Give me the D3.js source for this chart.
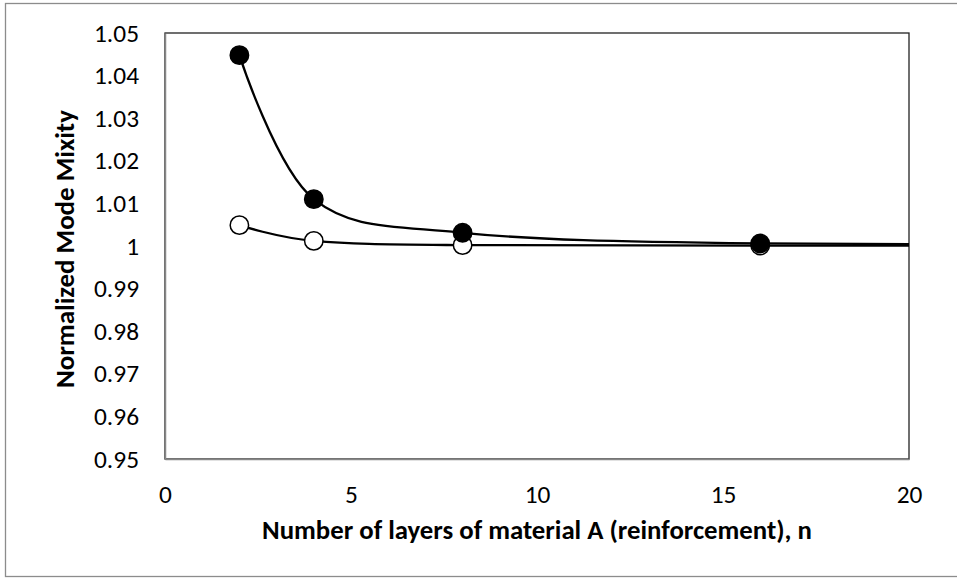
<!DOCTYPE html>
<html>
<head>
<meta charset="utf-8">
<script src="https://cdn.jsdelivr.net/npm/d3@7/dist/d3.min.js"></script>
<style>
  body { margin: 0; background: #fff; }
  text { font-family: Carlito, Calibri, Lato, sans-serif; fill: #000; }
</style>
</head>
<body>
<svg id="chart" width="957" height="580"></svg>
<script>
// data (n = 32 is past the axis, it only carries the curves to the edge)
var layers = [2, 4, 8, 16, 32];
var filledSeries = [1.0448, 1.0110, 1.0031, 1.0006, 1.0003];
var openSeries = [1.0049, 1.0012, 1.0002, 1.0001, 1.0000];
var xTicks = [0, 5, 10, 15, 20];
var yTicks = [0.95, 0.96, 0.97, 0.98, 0.99, 1.00, 1.01, 1.02, 1.03, 1.04, 1.05];
var yTickLabels = ["0.95", "0.96", "0.97", "0.98", "0.99", "1", "1.01", "1.02", "1.03", "1.04", "1.05"];
var xTitle = "Number of layers of material A (reinforcement), n";
var yTitle = "Normalized Mode Mixity";

var plot = {left: 165, right: 909, top: 33, bottom: 459};
var svg = d3.select("#chart");

// scale a font so a string fills a measured width
function fitSize(str, weight, width) {
    var t = svg.append("text").attr("font-size", 100).attr("font-weight", weight).text(str);
    var w = t.node().getComputedTextLength();
    t.remove();
    return 100 * width / w;
}
var tickSize = fitSize("1.05", "normal", 45);
var xTitleSize = fitSize(xTitle, "bold", 550);
var yTitleSize = fitSize(yTitle, "bold", 278);

var x = d3.scaleLinear().domain([0, 20]).range([plot.left, plot.right]);
var y = d3.scaleLinear().domain([0.95, 1.05]).range([plot.bottom, plot.top]);

// outer chart frame
svg.append("rect")
    .attr("x", 5.5).attr("y", 3.5)
    .attr("width", 960).attr("height", 573)
    .attr("fill", "none").attr("stroke", "#8c8c8c").attr("stroke-width", 1.3);

// plot area frame
svg.append("rect")
    .attr("x", plot.left).attr("y", plot.top)
    .attr("width", plot.right - plot.left).attr("height", plot.bottom - plot.top)
    .attr("fill", "none").attr("stroke", "#222").attr("stroke-width", 1.3);

var yAxis = svg.append("g")
    .attr("transform", "translate(" + plot.left + ",0)")
    .call(d3.axisLeft(y).tickValues(yTicks).tickSize(0).tickPadding(26)
        .tickFormat(function(d, i){ return yTickLabels[i]; }));
var xAxis = svg.append("g")
    .attr("transform", "translate(0," + plot.bottom + ")")
    .call(d3.axisBottom(x).tickValues(xTicks).tickSize(0).tickPadding(26));

[xAxis, yAxis].forEach(function(g){
    g.select(".domain").attr("stroke", "#878787").attr("stroke-width", 1.5);
    g.selectAll("text")
      .attr("font-family", null)
      .attr("font-size", tickSize)
      .attr("fill", "#000");
});

svg.append("text")
    .attr("x", (plot.left + plot.right) / 2)
    .attr("y", 539)
    .attr("text-anchor", "middle")
    .attr("font-weight", "bold")
    .attr("font-size", xTitleSize)
    .text(xTitle);

svg.append("text")
    .attr("transform", "translate(74,249) rotate(-90)")
    .attr("text-anchor", "middle")
    .attr("font-weight", "bold")
    .attr("font-size", yTitleSize)
    .text(yTitle);

svg.append("clipPath").attr("id", "plot-clip")
  .append("rect")
    .attr("x", plot.left).attr("y", plot.top)
    .attr("width", plot.right - plot.left).attr("height", plot.bottom - plot.top);

var line = d3.line()
    .x(function(d){ return x(d[0]); })
    .y(function(d){ return y(d[1]); })
    .curve(d3.curveCardinal.tension(0));

var series = [
    {values: openSeries, fill: "#fff"},
    {values: filledSeries, fill: "#000"}
];

var marks = svg.append("g").attr("clip-path", "url(#plot-clip)");

series.forEach(function(s){
    var pts = layers.map(function(n, i){ return [n, s.values[i]]; });
    marks.append("path")
        .datum(pts)
        .attr("d", line)
        .attr("fill", "none")
        .attr("stroke", "#000")
        .attr("stroke-width", 2.3);
    marks.selectAll(null)
        .data(pts)
        .enter()
        .append("circle")
          .attr("cx", function(d){ return x(d[0]); })
          .attr("cy", function(d){ return y(d[1]); })
          .attr("r", 9.2)
          .attr("fill", s.fill)
          .attr("stroke", "#000")
          .attr("stroke-width", 1.5);
});
</script>
</body>
</html>
